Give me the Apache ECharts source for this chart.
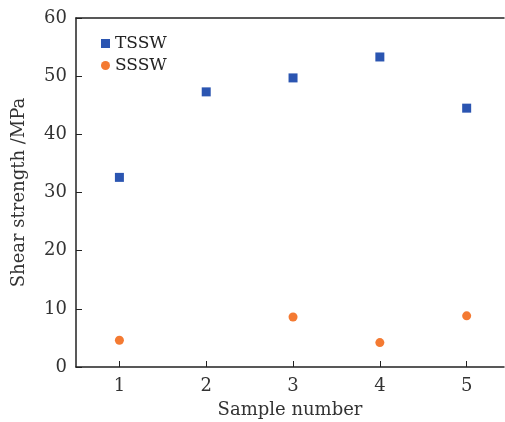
<!DOCTYPE html>
<html>
<head>
<meta charset="utf-8">
<script src="https://cdn.jsdelivr.net/npm/echarts@6/dist/echarts.min.js"></script>
<style>
  html, body { margin: 0; padding: 0; background: #fff; }
  #chart { width: 505px; height: 422px; }
</style>
</head>
<body>
<div id="chart"></div>
<script>
var samples = [1, 2, 3, 4, 5];
var tsswValues = [32.6, 47.3, 49.7, 53.3, 44.5];
var ssswValues = [4.6, null, 8.6, 4.2, 8.8];
var yTicks = [0, 10, 20, 30, 40, 50, 60];

function pairs(xs, ys) {
    var out = [];
    for (var i = 0; i < xs.length; i++) {
        if (ys[i] !== null) out.push([xs[i], ys[i]]);
    }
    return out;
}

var font = "DejaVu Serif";
var myChart = echarts.init(document.getElementById('chart'));
var option = {
    animation: false,
    backgroundColor: '#ffffff',
    grid: { left: 76, top: 18, bottom: 55, right: 1, outerBoundsMode: 'none', containLabel: false },
    legend: {
        left: 96, top: 30, orient: 'vertical', itemGap: 5,
        itemWidth: 9, itemHeight: 9,
        textStyle: { fontFamily: font, fontSize: 17, color: '#222' },
        data: ['TSSW', 'SSSW']
    },
    xAxis: [{
        type: 'value', min: 0.5, max: 5.43, interval: 1,
        name: 'Sample number', nameLocation: 'middle', nameGap: 34,
        nameTextStyle: { fontFamily: font, fontSize: 18, color: '#333' },
        axisLine: { lineStyle: { color: '#222', width: 1.5 } },
        axisTick: { inside: true, length: 6, lineStyle: { color: '#222' }, customValues: samples },
        axisLabel: { fontFamily: font, fontSize: 18, color: '#333', margin: 10, customValues: samples },
        splitLine: { show: false }
    }, {
        type: 'value', position: 'top', min: 0.5, max: 5.43,
        axisLine: { show: true, lineStyle: { color: '#222', width: 1.5 } },
        axisTick: { show: false }, axisLabel: { show: false }, splitLine: { show: false }
    }],
    yAxis: {
        type: 'value', min: 0, max: 60, interval: 10,
        name: 'Shear strength /MPa', nameLocation: 'middle', nameGap: 48,
        nameTextStyle: { fontFamily: font, fontSize: 18, color: '#333' },
        axisLine: { show: true, lineStyle: { color: '#222', width: 1.5 } },
        axisTick: { show: true, inside: true, length: 6, lineStyle: { color: '#222' } },
        axisLabel: { fontFamily: font, fontSize: 18, color: '#333', margin: 9,
            customValues: yTicks },
        splitLine: { show: false }
    },
    series: [
        {
            name: 'TSSW', type: 'scatter', symbol: 'rect', symbolSize: 9,
            itemStyle: { color: '#2b55b1', opacity: 1 },
            data: pairs(samples, tsswValues)
        },
        {
            name: 'SSSW', type: 'scatter', symbol: 'circle', symbolSize: 9,
            itemStyle: { color: '#f47a32', opacity: 1 },
            data: pairs(samples, ssswValues)
        }
    ]
};
myChart.setOption(option);
</script>
</body>
</html>
